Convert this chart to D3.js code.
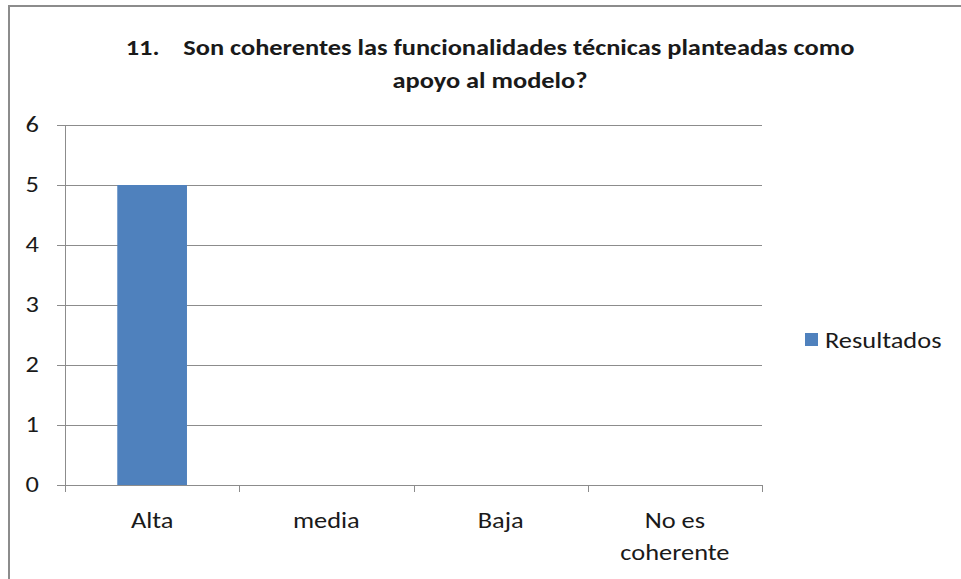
<!DOCTYPE html>
<html>
<head>
<meta charset="utf-8">
<script src="https://cdn.jsdelivr.net/npm/d3@7"></script>
<style>
  body { margin: 0; background: #fff; }
  svg { display: block; }
</style>
</head>
<body>
<svg id="chart" width="961" height="579"></svg>
<script>
const categories = ["Alta", "media", "Baja", "No es|coherente"]
const values = [5, 0, 0, 0]
const yTicks = [0, 1, 2, 3, 4, 5, 6]
const titleLines = ["11.    Son coherentes las funcionalidades técnicas planteadas como", "apoyo al modelo?"]
const seriesName = "Resultados"

const font = "Carlito, Calibri, 'Liberation Sans Narrow', 'Open Sans', sans-serif"
const stretch = 1.2   // the source picture is a little wider than tall
const svg = d3.select("#chart")

function label(g, x0, y0, txt, anchor, size, weight) {
  return g.append("text")
    .attr("transform", `translate(${x0},${y0}) scale(${stretch},1)`)
    .attr("text-anchor", anchor)
    .style("font-family", font)
    .style("font-size", size + "px")
    .style("font-weight", weight || "normal")
    .style("white-space", "pre")
    .attr("fill", "#1a1a1a")
    .text(txt)
}

// outer frame (right and bottom run off the picture)
svg.append("path")
  .attr("d", "M9,579 V6 H961")
  .attr("fill", "none")
  .attr("stroke", "#8c8c8c")
  .attr("stroke-width", 2)

const x = d3.scaleBand()
  .domain(categories)
  .range([65, 762])
  .paddingInner(0.6)
  .paddingOuter(0.3)

const y = d3.scaleLinear()
  .domain([0, 6])
  .range([485, 125])

// gridlines
svg.append("g")
  .selectAll("line")
  .data(yTicks)
  .join("line")
  .attr("x1", 57)
  .attr("x2", 762)
  .attr("y1", d => y(d) + 0.5)
  .attr("y2", d => y(d) + 0.5)
  .attr("stroke", "#8c8c8c")
  .attr("stroke-width", 1)

// y axis line
svg.append("line")
  .attr("x1", 65.5).attr("x2", 65.5)
  .attr("y1", y(6)).attr("y2", y(0) + 0.5)
  .attr("stroke", "#8c8c8c")

// category tick marks
const bounds = categories.map(c => x(c) - x.step() * x.paddingInner() / 2)
bounds.push(762)
svg.append("g")
  .selectAll("line")
  .data(bounds)
  .join("line")
  .attr("x1", d => Math.round(d) + 0.5)
  .attr("x2", d => Math.round(d) + 0.5)
  .attr("y1", y(0))
  .attr("y2", y(0) + 7)
  .attr("stroke", "#8c8c8c")

// bars
svg.append("g")
  .selectAll("rect")
  .data(values)
  .join("rect")
  .attr("x", (d, i) => x(categories[i]))
  .attr("y", d => y(d))
  .attr("width", x.bandwidth())
  .attr("height", d => y(0) - y(d))
  .attr("fill", "#4f81bd")

// y tick labels
const yg = svg.append("g")
yTicks.forEach(t => label(yg, 39, y(t) + 7, t, "end", 22))

// category labels
const cg = svg.append("g")
categories.forEach(c => {
  c.split("|").forEach((line, i) => {
    label(cg, x(c) + x.bandwidth() / 2, 528 + i * 32, line, "middle", 22)
  })
})

// title
const tg = svg.append("g")
titleLines.forEach((line, i) => label(tg, 490, 55 + i * 33, line, "middle", 22, "bold"))

// legend
svg.append("rect")
  .attr("x", 805).attr("y", 333)
  .attr("width", 13).attr("height", 13)
  .attr("fill", "#4f81bd")
label(svg, 825, 348, seriesName, "start", 22)
</script>
</body>
</html>
